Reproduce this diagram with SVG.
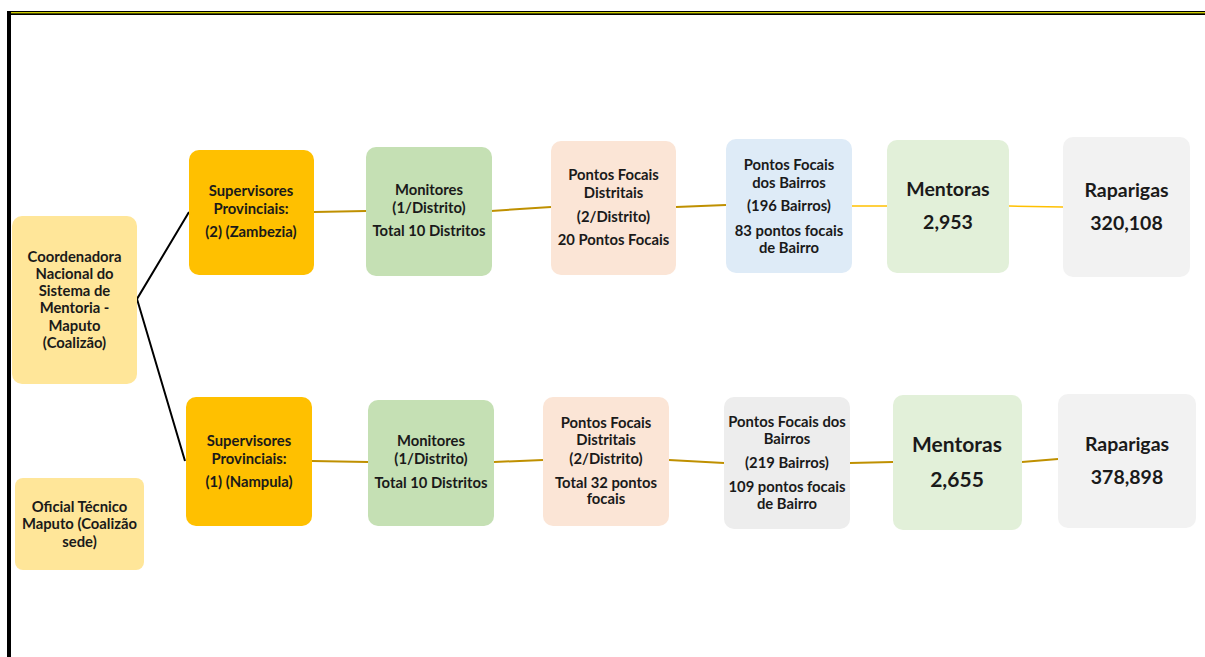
<svg xmlns="http://www.w3.org/2000/svg" width="1205" height="657" viewBox="0 0 1205 657">
<style>
text{font-family:Lato,"Open Sans","Liberation Sans",sans-serif;font-weight:700;fill:#1a1a1a;text-anchor:middle;dominant-baseline:central}
.s{font-size:14.8px}
.b{font-size:19.5px}
.bb{font-size:21px}
.gold{stroke:#BF9000;stroke-width:2;fill:none}
.yel{stroke:#FFC000;stroke-width:1.5;fill:none}
.blk{stroke:#000;stroke-width:2;fill:none}
</style>
<rect width="1205" height="657" fill="#fff"/>
<g id="frame">
<rect x="7" y="11" width="1198" height="4" fill="#000"/>
<rect x="11" y="12.2" width="1194" height="1.1" fill="#FFFF00"/>
<rect x="7" y="11" width="4" height="646" fill="#000"/>
</g>
<g id="connectors">
<path class="blk" d="M189,212 L137,299 L185,461"/>
<path class="gold" d="M314,212 L366,211"/>
<path class="gold" d="M491,211 L551,207"/>
<path class="gold" d="M676,207 L726,205"/>
<path class="yel" d="M852,206 L887,206"/>
<path class="yel" d="M1009,206 L1063,207"/>
<path class="gold" d="M312,461 L368,462"/>
<path class="gold" d="M494,462 L543,460"/>
<path class="gold" d="M669,460 L724,463"/>
<path class="gold" d="M850,463 L893,462"/>
<path class="gold" d="M1022,462 L1058,459"/>
</g>
<g id="coordenadora">
<rect x="12" y="216" width="125" height="168" rx="10" fill="#FFE699"/>
<text class="s" x="74.5" y="255.5">Coordenadora</text>
<text class="s" x="74.5" y="272.5">Nacional do</text>
<text class="s" x="74.5" y="289.5">Sistema de</text>
<text class="s" x="74.5" y="306.5">Mentoria -</text>
<text class="s" x="74.5" y="324.5">Maputo</text>
<text class="s" x="74.5" y="341.5">(Coalizão)</text>
</g>
<g id="oficial">
<rect x="15" y="478" width="129" height="92" rx="8" fill="#FFE699"/>
<text class="s" x="79.5" y="505.5">Oficial Técnico</text>
<text class="s" x="79.5" y="522.5">Maputo (Coalizão</text>
<text class="s" x="79.5" y="540.5">sede)</text>
</g>
<g id="sup-zambezia">
<rect x="189" y="150" width="125" height="125" rx="10" fill="#FFC000"/>
<text class="s" x="251" y="189.5">Supervisores</text>
<text class="s" x="251" y="207.5">Provinciais:</text>
<text class="s" x="251" y="230.5">(2) (Zambezia)</text>
</g>
<g id="sup-nampula">
<rect x="186" y="397" width="126" height="129" rx="10" fill="#FFC000"/>
<text class="s" x="249" y="439.5">Supervisores</text>
<text class="s" x="249" y="457.5">Provinciais:</text>
<text class="s" x="249" y="480.5">(1) (Nampula)</text>
</g>
<g id="monitores-1">
<rect x="366" y="147" width="126" height="129" rx="10" fill="#C5E0B4"/>
<text class="s" x="429" y="188.5">Monitores</text>
<text class="s" x="429" y="206.5">(1/Distrito)</text>
<text class="s" x="429" y="229.5">Total 10 Distritos</text>
</g>
<g id="monitores-2">
<rect x="368" y="400" width="126" height="126" rx="10" fill="#C5E0B4"/>
<text class="s" x="431" y="439.5">Monitores</text>
<text class="s" x="431" y="457.5">(1/Distrito)</text>
<text class="s" x="431" y="481.5">Total 10 Distritos</text>
</g>
<g id="pf-distritais-1">
<rect x="551" y="141" width="125" height="134" rx="10" fill="#FBE5D6"/>
<text class="s" x="613.5" y="173.5">Pontos Focais</text>
<text class="s" x="613.5" y="191.5">Distritais</text>
<text class="s" x="613.5" y="215.5">(2/Distrito)</text>
<text class="s" x="613.5" y="238.5">20 Pontos Focais</text>
</g>
<g id="pf-distritais-2">
<rect x="543" y="397" width="126" height="129" rx="10" fill="#FBE5D6"/>
<text class="s" x="606" y="421.5">Pontos Focais</text>
<text class="s" x="606" y="438.5">Distritais</text>
<text class="s" x="606" y="457.5">(2/Distrito)</text>
<text class="s" x="606" y="481.5">Total 32 pontos</text>
<text class="s" x="606" y="497.5">focais</text>
</g>
<g id="pf-bairros-1">
<rect x="726" y="139" width="126" height="134" rx="10" fill="#DEEBF7"/>
<text class="s" x="789" y="163.5">Pontos Focais</text>
<text class="s" x="789" y="181.5">dos Bairros</text>
<text class="s" x="789" y="204.5">(196 Bairros)</text>
<text class="s" x="789" y="229.5">83 pontos focais</text>
<text class="s" x="789" y="246.5">de Bairro</text>
</g>
<g id="pf-bairros-2">
<rect x="724" y="397" width="126" height="132" rx="10" fill="#EDEDED"/>
<text class="s" x="787" y="420.5">Pontos Focais dos</text>
<text class="s" x="787" y="437.5">Bairros</text>
<text class="s" x="787" y="461.5">(219 Bairros)</text>
<text class="s" x="787" y="485.5">109 pontos focais</text>
<text class="s" x="787" y="502.5">de Bairro</text>
</g>
<g id="mentoras-1">
<rect x="887" y="140" width="122" height="133" rx="10" fill="#E2F0D9"/>
<text class="b" x="948" y="188.5">Mentoras</text>
<text class="b" x="948" y="221.5">2,953</text>
</g>
<g id="mentoras-2">
<rect x="893" y="395" width="129" height="135" rx="10" fill="#E2F0D9"/>
<text class="bb" x="957" y="443.5">Mentoras</text>
<text class="bb" x="957" y="478.5">2,655</text>
</g>
<g id="raparigas-1">
<rect x="1063" y="137" width="127" height="140" rx="10" fill="#F2F2F2"/>
<text class="b" x="1126.5" y="189.5">Raparigas</text>
<text class="b" x="1126.5" y="222.5">320,108</text>
</g>
<g id="raparigas-2">
<rect x="1058" y="394" width="138" height="134" rx="10" fill="#F2F2F2"/>
<text class="b" x="1127" y="443.5">Raparigas</text>
<text class="b" x="1127" y="476.5">378,898</text>
</g>
</svg>
